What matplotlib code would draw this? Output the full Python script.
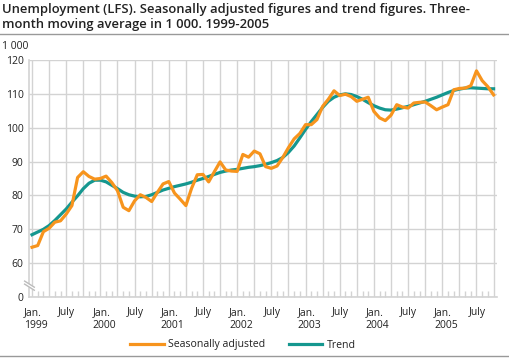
import numpy as np
import matplotlib
matplotlib.use('Agg')
import matplotlib.pyplot as plt
from matplotlib.lines import Line2D
from matplotlib.patches import Polygon
from matplotlib.transforms import ScaledTranslation

plt.rcParams['font.family'] = ['Open Sans', 'DejaVu Sans']

# monthly values, Jan 1999 - Oct 2005, in 1 000
seasonally_adjusted = [
    64.7, 65.2, 69.3, 70.3, 72.1, 72.5, 74.5, 77.0, 85.3, 87.0, 85.6, 84.8,
    85.0, 85.7, 83.8, 81.4, 76.5, 75.5, 78.4, 80.2, 79.4, 78.2, 80.9, 83.4,
    84.1, 80.7, 78.9, 77.0, 82.1, 86.1, 86.2, 84.0, 87.0, 89.9, 87.5, 87.2,
    87.1, 92.1, 91.3, 93.1, 92.3, 88.5, 88.0, 88.7, 91.2, 94.1, 96.7, 98.3,
    100.9, 100.9, 102.4, 106.3, 108.4, 110.9, 109.5, 109.9, 109.2, 107.8, 108.4, 109.0,
    104.8, 102.9, 102.1, 103.7, 106.8, 106.1, 105.8, 107.3, 107.5, 107.6, 106.5, 105.3,
    106.1, 106.8, 111.2, 111.6, 111.7, 112.4, 116.8, 113.9, 112.1, 109.7,
]
trend = [
    68.4, 69.2, 70.0, 71.1, 72.6, 74.3, 76.0, 78.0, 79.9, 82.0, 83.6, 84.5,
    84.5, 84.0, 83.0, 82.0, 80.9, 80.2, 79.8, 79.6, 79.7, 80.2, 80.9, 81.6,
    82.1, 82.6, 83.0, 83.4, 83.9, 84.5, 85.0, 85.6, 86.2, 86.8, 87.2, 87.5,
    87.7, 88.0, 88.3, 88.5, 88.8, 89.2, 89.7, 90.3, 91.2, 92.7, 94.6, 97.0,
    99.5, 101.8, 103.9, 106.0, 107.8, 109.0, 109.7, 110.0, 109.8, 109.2, 108.4, 107.4,
    106.5, 105.8, 105.3, 105.2, 105.5, 105.9, 106.3, 106.8, 107.3, 107.8, 108.4, 109.0,
    109.7, 110.4, 111.0, 111.4, 111.7, 111.8, 111.7, 111.6, 111.5, 111.5,
]

# x ticks every quarter (gridlines), labelled at Jan. and July
tick_months = list(range(0, 82, 3))
tick_labels = ['Jan.\n1999', '', 'July', '',
               'Jan.\n2000', '', 'July', '',
               'Jan.\n2001', '', 'July', '',
               'Jan.\n2002', '', 'July', '',
               'Jan.\n2003', '', 'July', '',
               'Jan.\n2004', '', 'July', '',
               'Jan.\n2005', '', 'July', '']
y_ticks = [50, 60, 70, 80, 90, 100, 110, 120]
y_labels = ['0', '60', '70', '80', '90', '100', '110', '120']

orange = '#f7941d'
teal = '#15978f'
grid_col = '#d3d3d3'
text_col = '#222222'

fig = plt.figure(figsize=(5.09, 3.59), dpi=100)
ax = fig.add_axes([29 / 509, 1 - 297 / 359, (497 - 29) / 509, (297 - 60) / 359])

months = np.arange(len(seasonally_adjusted))
ax.plot(months, trend, color=teal, lw=2.3, zorder=3, label='Trend')
ax.plot(months, seasonally_adjusted, color=orange, lw=2.3, zorder=4,
        label='Seasonally adjusted')

ax.set_xlim(-0.53, 81.6)
ax.set_ylim(50, 120)

ax.set_yticks(y_ticks)
ax.set_yticklabels(y_labels)
ax.set_xticks(tick_months)
ax.set_xticklabels(tick_labels, ha='left', multialignment='left', linespacing=1.3)
ax.set_xticks(months, minor=True)

ax.tick_params(axis='y', length=0, pad=4, labelsize=7.5, labelcolor=text_col)
ax.tick_params(axis='x', which='major', length=0, pad=7, labelsize=7.5,
               labelcolor=text_col)
ax.tick_params(axis='x', which='minor', direction='in', length=4,
               width=1, color=grid_col)
offset = ScaledTranslation(-8 / 100, 0, fig.dpi_scale_trans)
for lab in ax.get_xticklabels():
    lab.set_transform(lab.get_transform() + offset)

ax.grid(True, color=grid_col, lw=1)
ax.set_axisbelow(True)
for side in ['top', 'right']:
    ax.spines[side].set_visible(False)
ax.spines['bottom'].set_color(grid_col)
ax.spines['left'].set_color(grid_col)
ax.spines['bottom'].set_linewidth(1.2)
ax.spines['left'].set_linewidth(1.2)

# axis break at the bottom left
ax.add_patch(Polygon([(-1.6, 54.9), (1.0, 52.4), (1.0, 51.3), (-1.6, 53.8)],
                     closed=True, facecolor='white', edgecolor='none',
                     clip_on=False, zorder=5))
for dy in [0.0, -0.9]:
    ax.add_line(Line2D([-1.3, 0.4], [54.7 + dy, 52.9 + dy], color='#bbbbbb',
                       lw=1, clip_on=False, zorder=6))

fig.text(2 / 509, 1 - 3 / 359,
         'Unemployment (LFS). Seasonally adjusted figures and trend figures. Three-\n'
         'month moving average in 1 000. 1999-2005',
         ha='left', va='top', fontsize=9.4, fontweight='semibold', color=text_col,
         linespacing=1.2)
fig.text(2 / 509, 1 - 41 / 359, '1 000', ha='left', va='top', fontsize=7.5,
         color=text_col)

fig.add_artist(Line2D([0, 1], [1 - 34 / 359, 1 - 34 / 359], color='#999999', lw=1))
fig.add_artist(Line2D([0, 1], [1 - 356 / 359, 1 - 356 / 359], color='#999999', lw=1))

handles, labels = ax.get_legend_handles_labels()
fig.legend(handles[::-1], labels[::-1], loc='center', ncol=2,
           bbox_to_anchor=(243 / 509, 1 - 345 / 359), frameon=False,
           fontsize=7.6, handlelength=3.2, columnspacing=2.2, handletextpad=0.4,
           labelcolor=text_col)

fig.savefig('out.png', dpi=100)
